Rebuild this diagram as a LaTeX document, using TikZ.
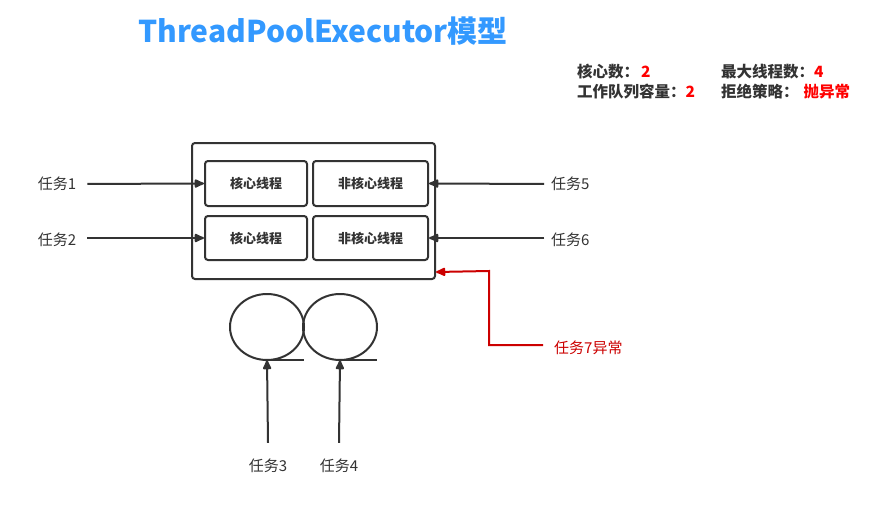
\documentclass[tikz,border=0pt]{standalone}
\usepackage{fontspec}
\setmainfont{Noto Sans CJK SC}
\usetikzlibrary{arrows.meta,calc}
\definecolor{ink}{HTML}{333333}
\definecolor{ttl}{HTML}{3399FF}
\definecolor{alert}{HTML}{FF0000}
\definecolor{redln}{HTML}{CC0000}
\begin{document}
\begin{tikzpicture}[x=1pt,y=-1pt,
  box/.style={draw=ink,line width=2pt,rounded corners=3pt,inner sep=0pt,font=\fontsize{13}{15}\selectfont\bfseries,text=ink},
  lbl/.style={font=\fontsize{15}{17}\selectfont,text=ink,inner sep=0pt},
  leg/.style={font=\fontsize{15.5}{17}\selectfont\bfseries,text=ink,inner sep=0pt,anchor=west},
  tip/.style={-{Latex[length=12pt,width=10pt,round]}},
  arr/.style={draw=ink,fill=ink,line width=2pt,tip},
  rarr/.style={draw=redln,line width=2pt,tip},
  tape/.style={draw=ink,line width=2pt}]
\useasboundingbox (0,0) rectangle (878,506);
\fill[white] (0,0) rectangle (878,506);
% title
\node[font=\fontsize{30}{34}\selectfont\bfseries,text=ttl,inner sep=0pt] (title) at (323,31) {ThreadPoolExecutor模型};
% legend
\node[leg] (l1) at (577,72) {核心数：\hspace{2pt}\textcolor{alert}{2}};
\node[leg] (l2) at (721,72) {最大线程数：\textcolor{alert}{4}};
\node[leg] (l3) at (577,92) {工作队列容量：\textcolor{alert}{2}};
\node[leg] (l4) at (721,92) {拒绝策略：\hspace{5pt}\textcolor{alert}{抛异常}};
% pool box
\node[box,minimum width=243pt,minimum height=136pt] (pool) at (313.5,211) {};
\node[box,minimum width=102pt,minimum height=45pt] (c1) at (256,183.5) {核心线程};
\node[box,minimum width=115pt,minimum height=45pt] (n1) at (370.5,183.5) {非核心线程};
\node[box,minimum width=102pt,minimum height=44pt] (c2) at (256,238) {核心线程};
\node[box,minimum width=115pt,minimum height=44pt] (n2) at (370.5,238) {非核心线程};
% labels
\node[lbl] (t1) at (57,184) {任务1};
\node[lbl] (t2) at (57,240) {任务2};
\node[lbl,anchor=west] (t5) at (551,184) {任务5};
\node[lbl,anchor=west] (t6) at (551,240) {任务6};
\node[lbl] (t3) at (268,466) {任务3};
\node[lbl] (t4) at (339,466) {任务4};
\node[lbl,text=redln,anchor=west] (t7) at (554,348) {任务7异常};
% queue (tapes)
\draw[tape] (267,327) ellipse [x radius=37, y radius=33];
\draw[tape] (340,327) ellipse [x radius=37, y radius=33];
\coordinate (q1) at (267,360);
\coordinate (q2) at (340,360);
\draw[tape] (q1) -- ++(37,0);
\draw[tape] (q2) -- ++(37,0);
% arrows
\draw[arr,shorten <=11pt] (t1.east) -- (c1.west);
\draw[arr,shorten <=11pt] (t2.east |- c2.west) -- (c2.west);
\draw[arr,shorten <=7pt] (t5.west) -- (n1.east);
\draw[arr,shorten <=7pt] (t6.west |- n2.east) -- (n2.east);
\draw[arr] ($(t3.north)+(0,-16)$) -- (q1);
\draw[arr] ($(t4.north)+(0,-16)$) -- (q2);
\draw[rarr,shorten <=11pt] (t7.west |- 0,345) -- (489,345) -- (489,271) -- ($(pool.south east)+(0,-8)$);
\end{tikzpicture}
\end{document}
